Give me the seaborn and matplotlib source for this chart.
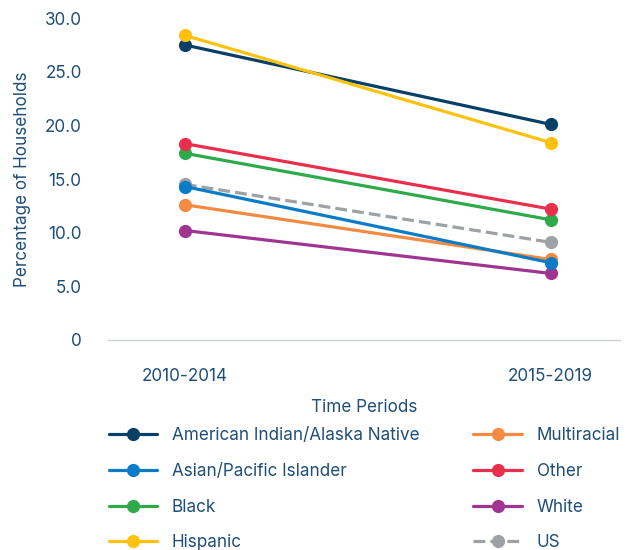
import numpy as np
import pandas as pd
import seaborn as sns
from matplotlib import pyplot as plt
from matplotlib.lines import Line2D

periods = ['2010-2014', '2015-2019']
groups = ['American Indian/Alaska Native', 'Asian/Pacific Islander', 'Black', 'Hispanic',
          'Multiracial', 'Other', 'White', 'US']
aian = [27.5, 20.1]
asian = [14.3, 7.2]
black = [17.4, 11.2]
hispanic = [28.4, 18.4]
multiracial = [12.6, 7.5]
other = [18.3, 12.2]
white = [10.2, 6.2]
us = [14.5, 9.1]
yticks = [0, 5, 10, 15, 20, 25, 30]
ytick_labels = ['0', '5.0', '10.0', '15.0', '20.0', '25.0', '30.0']

colors = {
    'American Indian/Alaska Native': '#083f66',
    'Asian/Pacific Islander': '#0a7bc7',
    'Black': '#2eaa4b',
    'Hispanic': '#fdc20d',
    'Multiracial': '#f58a42',
    'Other': '#ea2f4d',
    'White': '#a03591',
    'US': '#9ea2a6',
}
values = [aian, asian, black, hispanic, multiracial, other, white, us]

rows = []
for g, v in zip(groups, values):
    for p, val in zip(periods, v):
        rows.append({'Group': g, 'Period': p, 'Value': val})
df = pd.DataFrame(rows)
df['x'] = df['Period'].map({p: i for i, p in enumerate(periods)})

sns.set_style('white')
plt.rcParams['font.family'] = ['Inter', 'DejaVu Sans']
txt = '#1f4e79'
fs = 12.3

fig = plt.figure(figsize=(6.32, 5.5), dpi=100)
ax = fig.add_axes([0.171, 0.382, 0.81, 0.585])

draw_order = ['US', 'White', 'Multiracial', 'Asian/Pacific Islander', 'Black', 'Other',
              'American Indian/Alaska Native', 'Hispanic']
for g in draw_order:
    d = df[df['Group'] == g]
    sns.lineplot(data=d, x='x', y='Value', ax=ax, color=colors[g], marker='o',
                 markersize=9.5, markeredgewidth=0, linewidth=2.3,
                 linestyle='--' if g == 'US' else '-', legend=False)

ax.set_xlim(-0.21, 1.19)
ax.set_ylim(0, 30)
ax.set_xticks([0, 1])
ax.set_xticklabels(periods, fontsize=fs, color=txt)
ax.set_yticks(yticks)
ax.set_yticklabels(ytick_labels, fontsize=fs, color=txt)
ax.tick_params(axis='both', length=0)
ax.tick_params(axis='x', pad=20)
ax.tick_params(axis='y', pad=19)
ax.set_xlabel('Time Periods', fontsize=fs, color=txt, labelpad=10)
ax.set_ylabel('Percentage of Households', fontsize=fs, color=txt, labelpad=10)
for s in ['top', 'right', 'left']:
    ax.spines[s].set_visible(False)
ax.spines['bottom'].set_color('#d0d3d6')
ax.spines['bottom'].set_linewidth(1.0)


def make_handle(g):
    return Line2D([0], [0], color=colors[g], marker='o', markersize=9.5,
                  markeredgewidth=0, linewidth=2.3,
                  linestyle='--' if g == 'US' else '-')


# two legend columns placed separately
for col, x0 in [(groups[:4], 0.172), (groups[4:], 0.749)]:
    leg = fig.legend([make_handle(g) for g in col], col, loc='upper left',
                     bbox_to_anchor=(x0, 0.223), frameon=False, fontsize=fs,
                     handlelength=2.85, handletextpad=0.85, labelspacing=1.09,
                     borderaxespad=0, borderpad=0)
    for t in leg.get_texts():
        t.set_color(txt)

fig.savefig('out.png', dpi=100)
